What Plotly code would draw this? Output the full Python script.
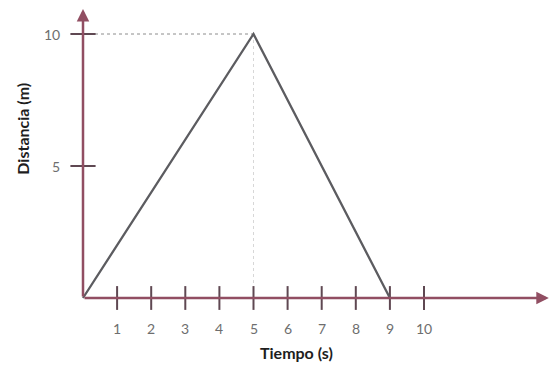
import plotly.graph_objects as go

# Distance-time data: goes out 10 m in 5 s, returns to 0 at 9 s
tiempo = [0, 5, 9]
distancia = [0, 10, 0]

x_ticks = [1, 2, 3, 4, 5, 6, 7, 8, 9, 10]
x_tick_labels = ["1", "2", "3", "4", "5", "6", "7", "8", "9", "10"]
y_ticks = [5, 10]
y_tick_labels = ["5", "10"]

peak_t, peak_d = 5, 10

axis_color = "rgb(145,78,98)"
tick_color = "rgb(95,72,82)"
label_color = "rgb(110,110,110)"
font = "Lato, 'Open Sans', sans-serif"

fig = go.Figure()

# dotted guide lines to the peak
fig.add_trace(go.Scatter(x=[0, peak_t], y=[peak_d, peak_d], mode="lines",
                         line=dict(color="rgb(140,140,140)", width=1, dash="dot"),
                         hoverinfo="skip", showlegend=False))
fig.add_trace(go.Scatter(x=[peak_t, peak_t], y=[peak_d, 0], mode="lines",
                         line=dict(color="rgb(215,215,215)", width=1, dash="dot"),
                         hoverinfo="skip", showlegend=False))

# axes drawn as arrows
fig.add_annotation(x=13.66, y=0, ax=0, ay=0, xref="x", yref="y", axref="x", ayref="y",
                   text="", showarrow=True, arrowhead=2, arrowsize=1,
                   arrowwidth=2.5, arrowcolor=axis_color)
fig.add_annotation(x=0, y=10.95, ax=0, ay=0, xref="x", yref="y", axref="x", ayref="y",
                   text="", showarrow=True, arrowhead=2, arrowsize=1,
                   arrowwidth=2.5, arrowcolor=axis_color)

# tick marks crossing the axes
fig.add_trace(go.Scatter(x=x_ticks, y=[0] * len(x_ticks), mode="markers",
                         marker=dict(symbol="line-ns", size=17,
                                     line=dict(color=tick_color, width=2)),
                         hoverinfo="skip", showlegend=False))
fig.add_trace(go.Scatter(x=[0] * len(y_ticks), y=y_ticks, mode="markers",
                         marker=dict(symbol="line-ew", size=18,
                                     line=dict(color=tick_color, width=2)),
                         hoverinfo="skip", showlegend=False))

# distance-time polyline
fig.add_trace(go.Scatter(x=tiempo, y=distancia, mode="lines",
                         line=dict(color="rgb(92,92,96)", width=2.3),
                         showlegend=False))

# tick labels
for xv, lab in zip(x_ticks, x_tick_labels):
    fig.add_annotation(x=xv, y=-1.15, xref="x", yref="y", text=lab, showarrow=False,
                       font=dict(family=font, size=14, color=label_color))
for yv, lab in zip(y_ticks, y_tick_labels):
    fig.add_annotation(x=-0.62, y=yv, xref="x", yref="y", text=lab, showarrow=False,
                       xanchor="right",
                       font=dict(family=font, size=14, color=label_color))

# axis titles
fig.add_annotation(x=6.25, y=-2.08, xref="x", yref="y", text="<b>Tiempo (s)</b>",
                   showarrow=False, font=dict(family=font, size=16, color="rgb(30,30,30)"))
fig.add_annotation(x=-1.8, y=6.4, xref="x", yref="y", text="<b>Distancia (m)</b>",
                   showarrow=False, textangle=-90,
                   font=dict(family=font, size=16, color="rgb(30,30,30)"))

fig.update_layout(
    width=550, height=365,
    margin=dict(l=0, r=0, t=0, b=0),
    paper_bgcolor="white", plot_bgcolor="white",
    xaxis=dict(range=[-2.434, 13.695], visible=False, fixedrange=True),
    yaxis=dict(range=[-2.538, 11.288], visible=False, fixedrange=True),
    showlegend=False,
)

fig.write_html("out.html")
